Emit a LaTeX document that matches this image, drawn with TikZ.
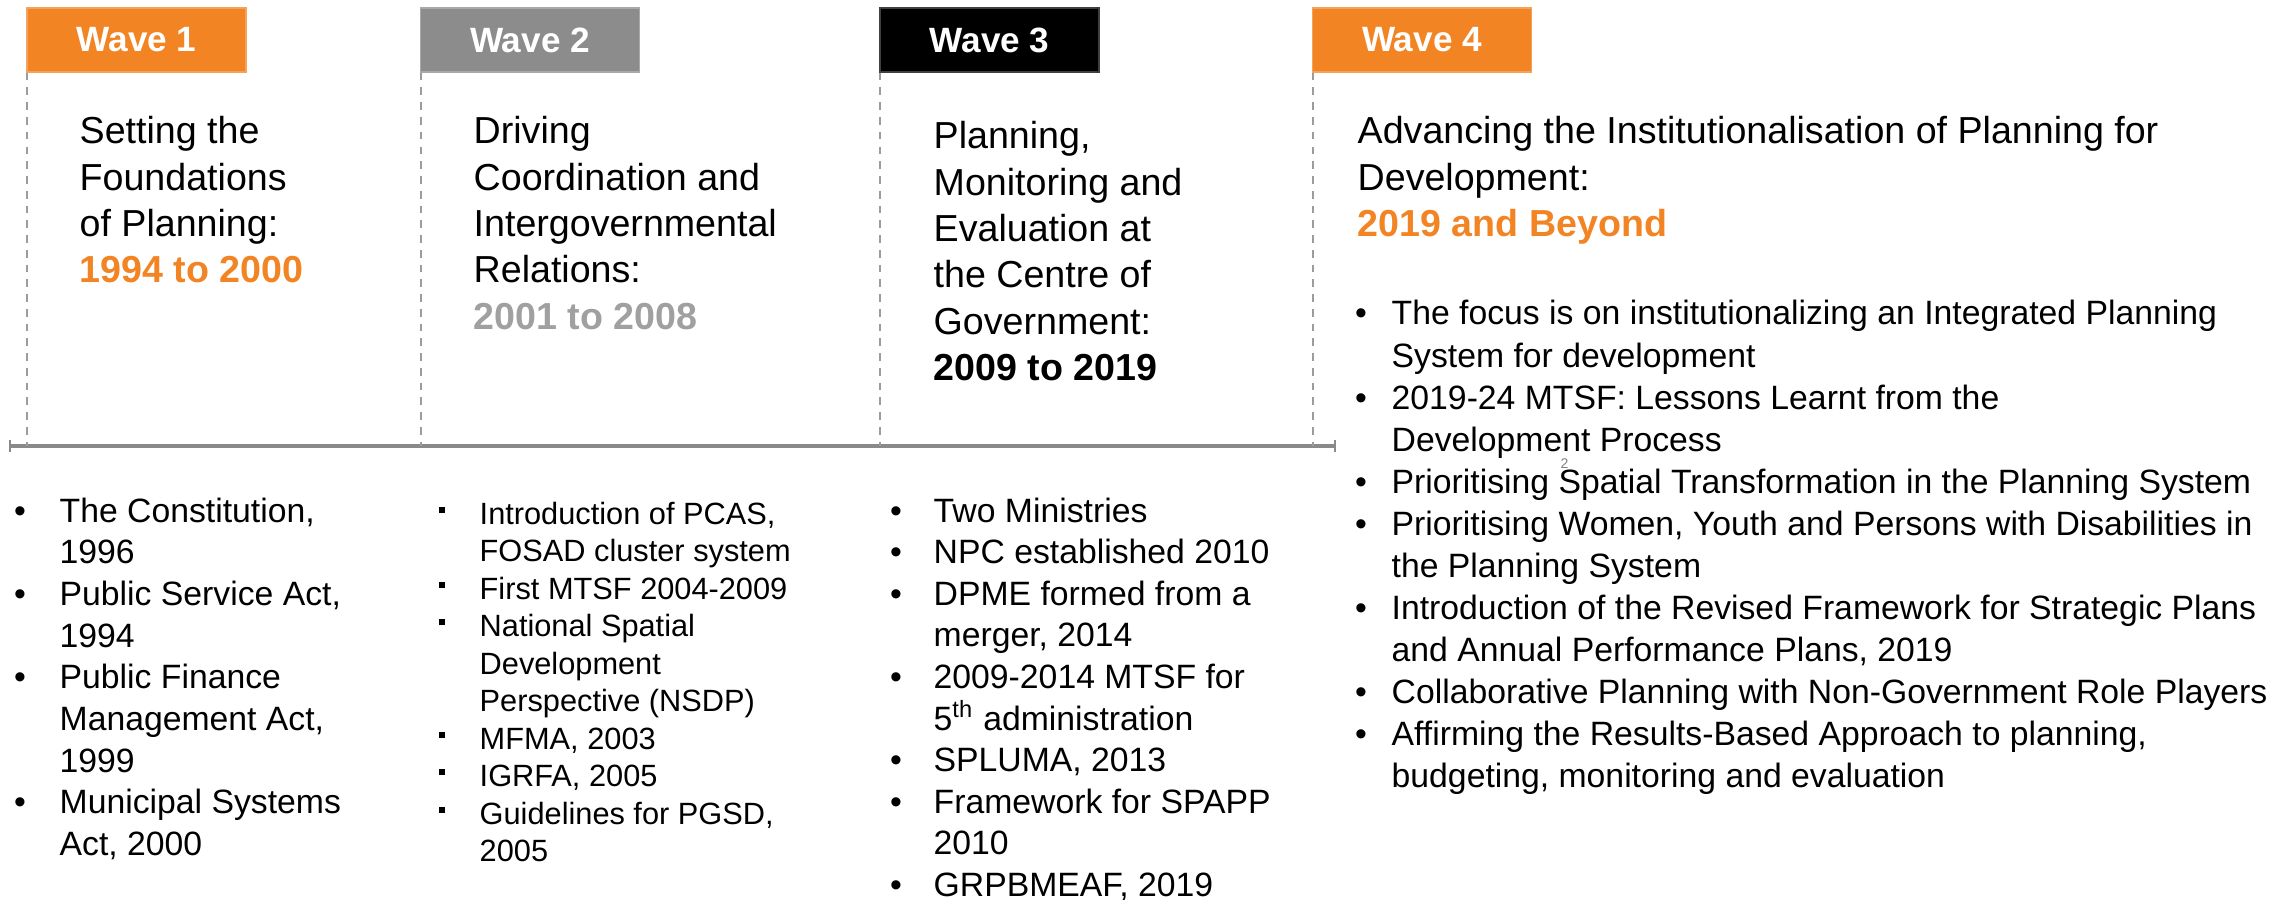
\documentclass[tikz,border=0pt]{standalone}
\usepackage{fontspec}
\setmainfont{Liberation Sans}

\definecolor{waveorange}{HTML}{F28423}
\definecolor{wavegray}{HTML}{8C8C8C}
\definecolor{yeargray}{HTML}{A0A0A0}
\definecolor{axisgray}{HTML}{8A8A8A}
\definecolor{guidegray}{HTML}{9C9C9C}

\tikzset{
  wavebox/.style={fill=#1, draw=#1!75!white, line width=0.4pt,
    minimum width=21.9mm, minimum height=6.4mm, inner sep=0pt,
    text=white, font=\fontsize{10}{12}\selectfont\bfseries},
  headtext/.style={anchor=base west, inner sep=0pt,
    font=\fontsize{10.7}{13.2}\selectfont},
  yearline/.style={headtext, font=\fontsize{10.7}{13.2}\selectfont\bfseries, text=#1},
  bodytext/.style={anchor=base west, inner sep=0pt,
    font=\fontsize{9.6}{11.85}\selectfont},
  smalltext/.style={anchor=base west, inner sep=0pt,
    font=\fontsize{8.75}{10.6}\selectfont},
  dotbullet/.style={anchor=base, inner sep=0pt,
    font=\fontsize{9.6}{11.85}\selectfont},
  squarebullet/.style={anchor=base, inner sep=0pt},
  guide/.style={draw=guidegray, line width=0.6pt, dash pattern=on 2.2pt off 2pt},
  axis/.style={draw=axisgray, line width=1.1pt},
  axistick/.style={draw=axisgray, line width=0.5pt},
}

\begin{document}
\begin{tikzpicture}[x=0.1mm, y=-0.1mm]
\path[use as bounding box] (0,0) rectangle (2295,900);

% wave labels
\node[wavebox=waveorange] (w1box) at (136.5,40) {Wave 1};
\node[wavebox=wavegray]   (w2box) at (530,40)   {Wave 2};
\node[wavebox=black]      (w3box) at (989.5,40) {Wave 3};
\node[wavebox=waveorange] (w4box) at (1422,40)  {Wave 4};

% time axis
\coordinate (axis-start) at (10,446);
\coordinate (axis-end)   at (1335,446);
\draw[axis] (axis-start) -- (axis-end);
\draw[axistick] (axis-start) ++(0,-6) -- ++(0,12);
\draw[axistick] (axis-end) ++(0,-6) -- ++(0,12);

% dashed guides from each label down to the axis
\foreach \b in {w1box,w2box,w3box,w4box}
  \draw[guide] ([xshift=0.1mm]\b.south west) -- ([xshift=0.1mm]\b.south west |- axis-start);

% ---- headings ----
\foreach \t [count=\i from 0] in {{Setting the},{Foundations},{of Planning:}}
  \node[headtext] (w1-h\i) at (79,144+46.3*\i) {\t};
\node[yearline=waveorange] (w1-year) at (79,144+46.3*3) {1994 to 2000};

\foreach \t [count=\i from 0] in {{Driving},{Coordination and},{Intergovernmental},{Relations:}}
  \node[headtext] (w2-h\i) at (473,144+46.3*\i) {\t};
\node[yearline=yeargray] (w2-year) at (473,144+46.3*4) {2001 to 2008};

\foreach \t [count=\i from 0] in {{Planning,},{Monitoring and},{Evaluation at},{the Centre of},{Government:}}
  \node[headtext] (w3-h\i) at (933,149+46.3*\i) {\t};
\node[yearline=black] (w3-year) at (933,149+46.3*5) {2009 to 2019};

\foreach \t [count=\i from 0] in {{Advancing the Institutionalisation of Planning for},{Development:}}
  \node[headtext] (w4-h\i) at (1357,144+46.3*\i) {\t};
\node[yearline=waveorange] (w4-year) at (1357,144+46.3*2) {2019 and Beyond};

% ---- wave 1 list ----
\foreach \t [count=\i from 0] in {{The Constitution,},{1996},{Public Service Act,},{1994},
    {Public Finance},{Management Act,},{1999},{Municipal Systems},{Act, 2000}}
  \node[bodytext] (w1-l\i) at (59,522+41.7*\i) {\t};
\foreach \i in {0,2,4,7}
  \node[dotbullet] (w1-b\i) at (20,522+41.7*\i) {\textbullet};

% ---- wave 2 list ----
\foreach \t [count=\i from 0] in {{Introduction of PCAS,},{FOSAD cluster system},{First MTSF 2004-2009},
    {National Spatial},{Development},{Perspective (NSDP)},{MFMA, 2003},{IGRFA, 2005},
    {Guidelines for PGSD,},{2005}}
  \node[smalltext] (w2-l\i) at (479,524+37.5*\i) {\t};
\foreach \i in {0,2,3,6,7,8}
  \node[squarebullet] (w2-b\i) at (442,524+37.5*\i) {\rule[3.2pt]{1.7pt}{1.7pt}};

% ---- wave 3 list ----
\foreach \t [count=\i from 0] in {{Two Ministries},{NPC established 2010},{DPME formed from a},
    {merger, 2014},{2009-2014 MTSF for},{5\textsuperscript{th} administration},{SPLUMA, 2013},
    {Framework for SPAPP},{2010},{GRPBMEAF, 2019}}
  \node[bodytext] (w3-l\i) at (933,522+41.6*\i) {\t};
\foreach \i in {0,1,2,4,6,7,9}
  \node[dotbullet] (w3-b\i) at (896,522+41.6*\i) {\textbullet};

% ---- wave 4 list ----
\foreach \t [count=\i from 0] in {
    {The focus is on institutionalizing an Integrated Planning},
    {System for development},
    {2019-24 MTSF: Lessons Learnt from the},
    {Development Process},
    {Prioritising Spatial Transformation in the Planning System},
    {Prioritising Women, Youth and Persons with Disabilities in},
    {the Planning System},
    {Introduction of the Revised Framework for Strategic Plans},
    {and Annual Performance Plans, 2019},
    {Collaborative Planning with Non-Government Role Players},
    {Affirming the Results-Based Approach to planning,},
    {budgeting, monitoring and evaluation}}
  \node[bodytext] (w4-l\i) at (1391,325+42*\i) {\t};
\foreach \i in {0,2,4,5,7,9,10}
  \node[dotbullet] (w4-b\i) at (1361,325+42*\i) {\textbullet};

% page number
\node[anchor=base west, inner sep=0pt, text=gray, font=\fontsize{4}{5}\selectfont] (pageno) at (1560,468) {2};
\end{tikzpicture}
\end{document}
